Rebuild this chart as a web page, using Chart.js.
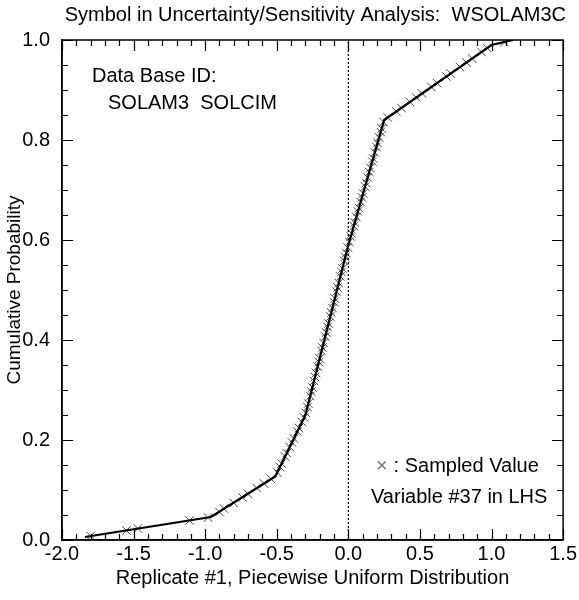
<!DOCTYPE html>
<html>
<head>
<meta charset="utf-8">
<script src="https://cdn.jsdelivr.net/npm/chart.js@4.4.0/dist/chart.umd.min.js"></script>
<style>
  html, body { margin: 0; padding: 0; background: #fff; }
  #wrap { width: 579px; height: 600px; }
</style>
</head>
<body>
<div id="wrap"><canvas id="cdfChart" width="579" height="600"></canvas></div>
<script>
// piecewise uniform CDF break points
const curveX = [-1.84, -0.96, -0.51, -0.30, 0.0, 0.25, 1.0, 1.15];
const curveY = [0.006, 0.046, 0.127, 0.25, 0.59, 0.84, 0.99, 1.0];

// LHS sampled values (100 samples)
const sampleX = [
  -1.80, -1.55, -1.47, -1.11, -0.98, -0.90, -0.87, -0.80, -0.74, -0.70,
  -0.64, -0.59, -0.54, -0.496, -0.478, -0.466, -0.442, -0.430, -0.409, -0.394,
  -0.380, -0.356, -0.344, -0.324, -0.309, -0.296, -0.286, -0.280, -0.266, -0.259,
  -0.251, -0.240, -0.233, -0.226, -0.214, -0.206, -0.200, -0.187, -0.181, -0.173,
  -0.161, -0.154, -0.145, -0.138, -0.126, -0.119, -0.111, -0.101, -0.094, -0.082,
  -0.075, -0.067, -0.056, -0.048, -0.041, -0.028, -0.021, -0.014, -0.004, 0.006,
  0.017, 0.023, 0.038, 0.045, 0.056, 0.067, 0.074, 0.086, 0.095, 0.103,
  0.117, 0.124, 0.135, 0.146, 0.154, 0.167, 0.173, 0.185, 0.196, 0.204,
  0.215, 0.226, 0.233, 0.246, 0.275, 0.335, 0.37, 0.43, 0.475, 0.515,
  0.58, 0.62, 0.685, 0.715, 0.78, 0.825, 0.865, 0.93, 0.97, 1.09
];
const sampleY = [
  0.008, 0.019, 0.023, 0.039, 0.045, 0.056, 0.063, 0.074, 0.085, 0.092,
  0.104, 0.113, 0.122, 0.135, 0.146, 0.153, 0.167, 0.174, 0.186, 0.195,
  0.203, 0.217, 0.224, 0.236, 0.245, 0.254, 0.266, 0.273, 0.288, 0.297,
  0.305, 0.318, 0.326, 0.334, 0.347, 0.356, 0.363, 0.378, 0.385, 0.394,
  0.407, 0.415, 0.426, 0.433, 0.447, 0.455, 0.464, 0.476, 0.483, 0.497,
  0.505, 0.514, 0.527, 0.536, 0.543, 0.558, 0.566, 0.574, 0.585, 0.596,
  0.607, 0.613, 0.628, 0.635, 0.646, 0.657, 0.664, 0.676, 0.685, 0.693,
  0.707, 0.714, 0.725, 0.736, 0.744, 0.757, 0.763, 0.775, 0.786, 0.794,
  0.805, 0.816, 0.823, 0.836, 0.845, 0.857, 0.864, 0.876, 0.885, 0.893,
  0.906, 0.914, 0.927, 0.933, 0.946, 0.955, 0.963, 0.976, 0.984, 0.996
];

// dotted reference line at zero
const zeroX = [0, 0];
const zeroY = [0, 1];

const titleText = "Symbol in Uncertainty/Sensitivity Analysis:  WSOLAM3C";
const xTitle = "Replicate #1, Piecewise Uniform Distribution";
const yTitle = "Cumulative Probability";

const FONT = "'Liberation Sans', Arial, Helvetica, sans-serif";
const FS = 20;

function toPoints(xs, ys) {
  return xs.map((x, i) => ({ x: x, y: ys[i] }));
}

// box + inward ticks on all four sides, plus text notes
const framePlugin = {
  id: "frame",
  afterDraw(chart) {
    const ctx = chart.ctx;
    const a = chart.chartArea;
    const xs = chart.scales.x;
    const ys = chart.scales.y;
    ctx.save();
    ctx.strokeStyle = "#000";
    ctx.lineWidth = 1.5;
    ctx.strokeRect(a.left, a.top, a.right - a.left, a.bottom - a.top);
    ctx.lineWidth = 1.2;
    ctx.beginPath();
    for (let i = -20; i <= 15; i++) {
      const px = Math.round(xs.getPixelForValue(i / 10)) + 0.5;
      const len = i % 5 === 0 ? 11 : 6;
      ctx.moveTo(px, a.bottom); ctx.lineTo(px, a.bottom - len);
      ctx.moveTo(px, a.top); ctx.lineTo(px, a.top + len);
    }
    for (let j = 0; j <= 20; j++) {
      const py = Math.round(ys.getPixelForValue(j / 20)) + 0.5;
      const len = j % 4 === 0 ? 11 : 6;
      ctx.moveTo(a.left, py); ctx.lineTo(a.left + len, py);
      ctx.moveTo(a.right, py); ctx.lineTo(a.right - len, py);
    }
    ctx.stroke();

    ctx.fillStyle = "#000";
    ctx.font = FS + "px " + FONT;
    ctx.textBaseline = "middle";
    ctx.textAlign = "left";
    ctx.fillText("Data Base ID:", a.left + 30, a.top + 36);
    ctx.fillText("SOLAM3  SOLCIM", a.left + 46, a.top + 63);

    ctx.fillStyle = "#777";
    ctx.fillText("\u00d7", a.left + 314, a.top + 426);
    ctx.fillStyle = "#000";
    ctx.fillText(" : Sampled Value", a.left + 326, a.top + 426);
    ctx.fillText("Variable #37 in LHS", a.left + 309, a.top + 457);
    ctx.restore();
  }
};

const config = {
  type: "scatter",
  data: {
    datasets: [
      {
        label: "zero",
        data: toPoints(zeroX, zeroY),
        showLine: true,
        borderColor: "#000",
        borderWidth: 1.2,
        borderDash: [2, 2],
        pointRadius: 0,
      },
      {
        label: "CDF",
        data: toPoints(curveX, curveY),
        showLine: true,
        borderColor: "#000",
        borderWidth: 2.2,
        pointRadius: 0,
        tension: 0,
      },
      {
        label: "Sampled Value",
        data: toPoints(sampleX, sampleY),
        showLine: false,
        pointStyle: "crossRot",
        pointRadius: 6,
        borderColor: "#444",
        borderWidth: 1,
      },
    ],
  },
  options: {
    responsive: false,
    animation: false,
    layout: { padding: { left: 0, right: 13, top: 0, bottom: 0 } },
    plugins: {
      legend: { display: false },
      tooltip: { enabled: false },
      title: {
        display: true,
        text: titleText,
        color: "#000",
        font: { family: FONT, size: FS, weight: "normal" },
        padding: { top: 3, bottom: 13 },
        align: "end",
      },
    },
    scales: {
      x: {
        type: "linear",
        min: -2,
        max: 1.5,
        grid: { display: false, drawTicks: false },
        border: { display: true, color: "#000", width: 1.5 },
        ticks: {
          stepSize: 0.5,
          padding: 2,
          color: "#000",
          font: { family: FONT, size: FS },
          callback: (v) => v.toFixed(1),
          maxRotation: 0,
        },
        title: {
          display: true,
          text: xTitle,
          color: "#000",
          font: { family: FONT, size: FS },
          padding: { top: 0, bottom: 10 },
        },
        afterFit: (s) => { s.height = 60; },
      },
      y: {
        type: "linear",
        min: 0,
        max: 1,
        grid: { display: false, drawTicks: false },
        border: { display: true, color: "#000", width: 1.5 },
        ticks: {
          stepSize: 0.2,
          padding: 12,
          color: "#000",
          font: { family: FONT, size: FS },
          callback: (v) => v.toFixed(1),
        },
        title: {
          display: true,
          text: yTitle,
          color: "#000",
          font: { family: FONT, size: 19 },
          padding: { top: 3, bottom: 0 },
        },
        afterFit: (s) => { s.width = 62; },
      },
    },
  },
  plugins: [framePlugin],
};

const myChart = new Chart(document.getElementById("cdfChart"), config);
</script>
</body>
</html>
